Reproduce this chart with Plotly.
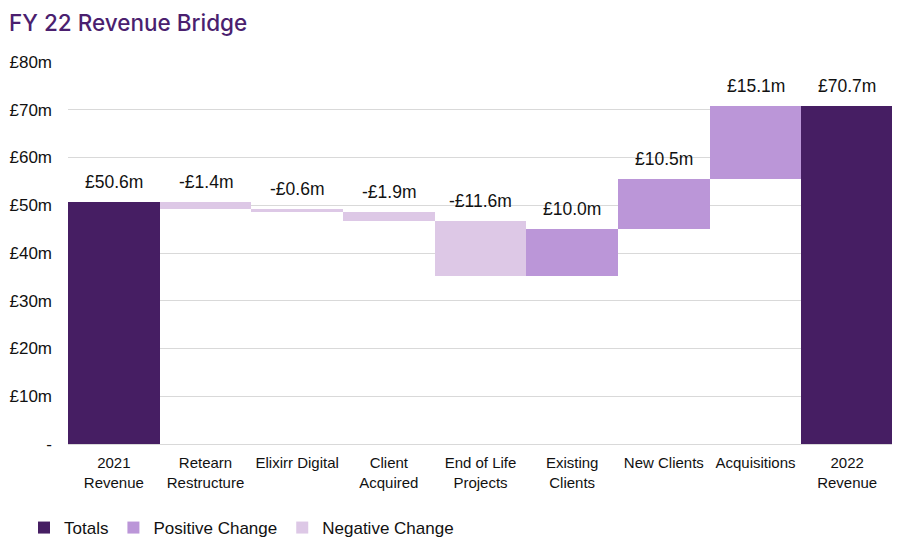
import plotly.graph_objects as go

categories = ["2021<br>Revenue", "Retearn<br>Restructure", "Elixirr Digital", "Client<br>Acquired",
              "End of Life<br>Projects", "Existing<br>Clients", "New Clients", "Acquisitions", "2022<br>Revenue"]
start_total = 50.6
changes = [-1.4, -0.6, -1.9, -11.6, 10.0, 10.5, 15.1]
end_total = 70.7
labels = ["£50.6m", "-£1.4m", "-£0.6m", "-£1.9m", "-£11.6m", "£10.0m", "£10.5m", "£15.1m", "£70.7m"]
tick_vals = [0, 10, 20, 30, 40, 50, 60, 70, 80]
tick_text = ["-", "£10m", "£20m", "£30m", "£40m", "£50m", "£60m", "£70m", "£80m"]

C_TOTAL = "#461e63"
C_POS = "#bb96d8"
C_NEG = "#ddc8e6"
FONT = "Liberation Sans, Arial, sans-serif"

W, H = 892, 535  # page body has an 8px margin

# compute levels
level = start_total
pos_x, pos_y, pos_b = [], [], []
neg_x, neg_y, neg_b = [], [], []
tops = [start_total]
for cat, ch in zip(categories[1:-1], changes):
    new = level + ch
    if ch >= 0:
        pos_x.append(cat); pos_y.append(ch); pos_b.append(level)
    else:
        neg_x.append(cat); neg_y.append(-ch); neg_b.append(new)
    tops.append(max(level, new))
    level = new
tops.append(end_total)

fig = go.Figure()
fig.add_trace(go.Bar(x=[categories[0], categories[-1]], y=[start_total, end_total],
                     marker_color=C_TOTAL, name="Totals", marker_line_width=0))
fig.add_trace(go.Bar(x=pos_x, y=pos_y, base=pos_b, marker_color=C_POS,
                     name="Positive Change", marker_line_width=0))
fig.add_trace(go.Bar(x=neg_x, y=neg_y, base=neg_b, marker_color=C_NEG,
                     name="Negative Change", marker_line_width=0))

for cat, top, lab in zip(categories, tops, labels):
    fig.add_annotation(x=cat, y=top, text=lab, showarrow=False, yshift=20,
                       yanchor="middle", xanchor="center",
                       font=dict(family=FONT, size=17.5, color="#111111"))

fig.update_layout(
    width=W, height=H,
    margin=dict(l=60, r=7, t=54, b=99, autoexpand=False),
    paper_bgcolor="white", plot_bgcolor="white",
    barmode="overlay", bargap=0,
    title=dict(text="FY 22 Revenue Bridge", x=1 / W, xanchor="left", xref="container",
               y=1 - 15 / H, yanchor="middle", yref="container",
               font=dict(family="Inter, Lato, sans-serif", size=22.5, weight=500, color="#4b1f6f")),
    font=dict(family=FONT, size=15, color="#111111"),
    legend=dict(orientation="h", xref="container", yref="container",
                x=16 / W, xanchor="left", y=1 - 520 / H, yanchor="middle",
                font=dict(family=FONT, size=17, color="#111111"), traceorder="normal"),
    showlegend=True,
)
fig.update_xaxes(categoryorder="array", categoryarray=categories, showgrid=False,
                 showline=False, ticks="", tickfont=dict(family=FONT, size=15), tickangle=0,
                 ticklabelstandoff=8, automargin=False)
fig.update_yaxes(range=[0, 80], tickvals=tick_vals, ticktext=tick_text, showgrid=True,
                 gridcolor="#d9d9d9", gridwidth=1, zeroline=True, zerolinecolor="#d9d9d9",
                 zerolinewidth=1, showline=False, ticks="", ticklabelstandoff=15,
                 tickfont=dict(family=FONT, size=17), automargin=False)

fig.write_html("out.html")
